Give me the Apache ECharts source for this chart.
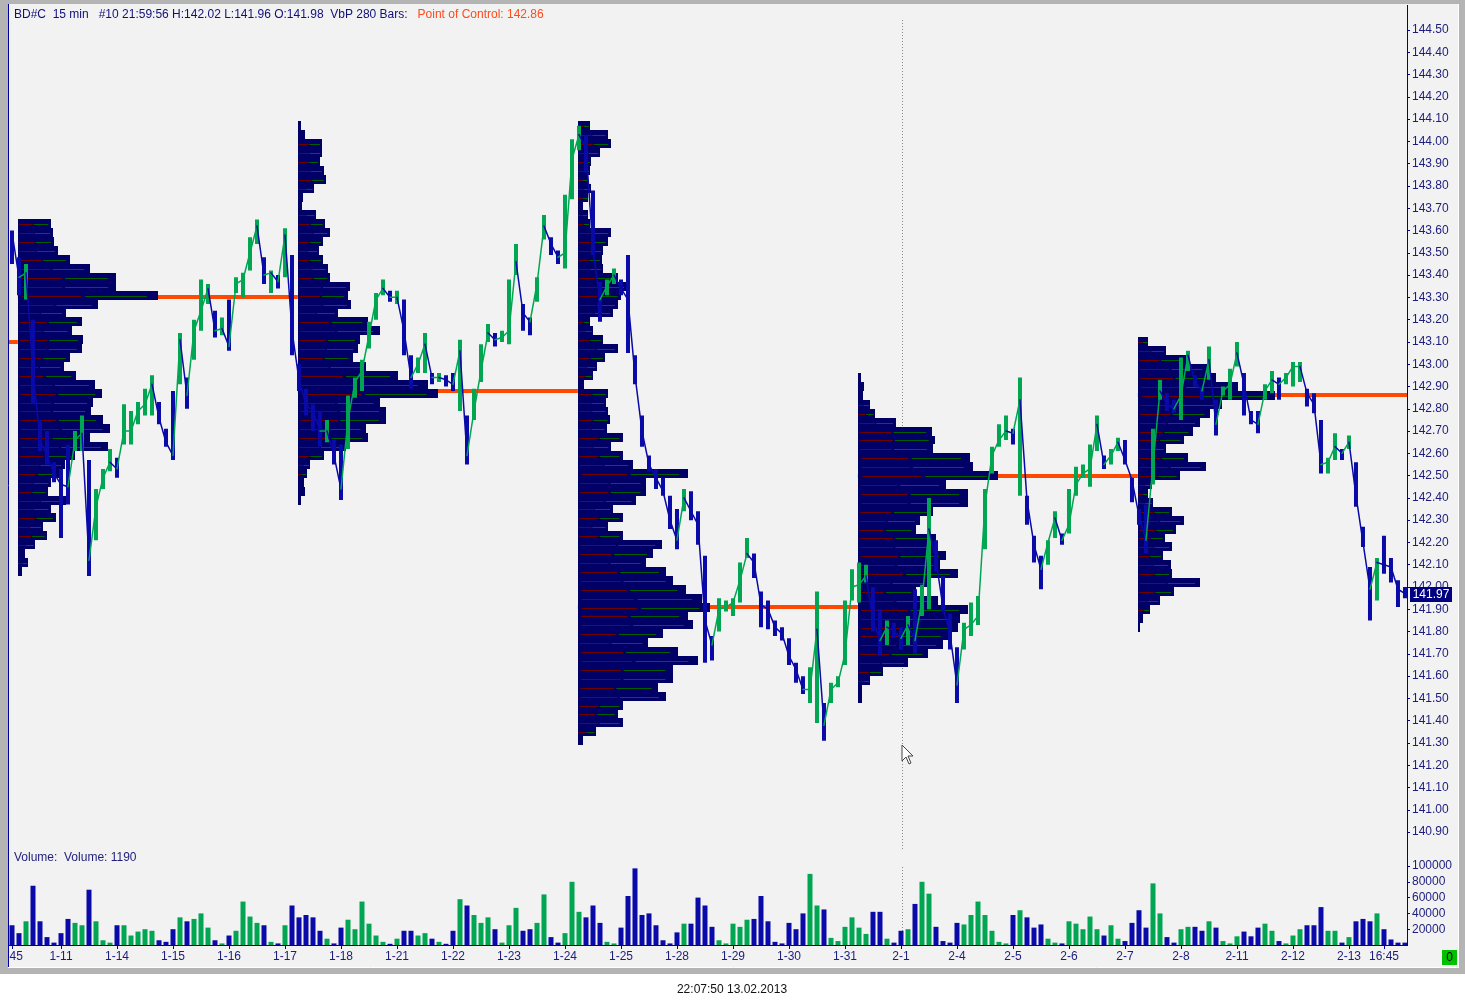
<!DOCTYPE html>
<html>
<head>
<meta charset="utf-8">
<title>BD#C 15 min - Volume by Price</title>
<script src="https://cdn.jsdelivr.net/npm/echarts@6/dist/echarts.min.js"></script>
<style>
  html, body { margin: 0; padding: 0; background: #fff; }
  #chart { width: 1465px; height: 1007px; }
</style>
</head>
<body>
<div id="chart"></div>
<script>
// time axis: 1 unit = 1 trading day, 1-11 sits at 1
const dayLabels = ['1-11', '1-14', '1-15', '1-16', '1-17', '1-18', '1-21', '1-22', '1-23', '1-24', '1-25', '1-28',
  '1-29', '1-30', '1-31', '2-1', '2-4', '2-5', '2-6', '2-7', '2-8', '2-11', '2-12', '2-13'];
const barsPerDay = 56;
const firstSample = 0.125, sampleStep = 0.125; // one sampled bar every 1/8 day

// sampled closes
const closes = [
  143.59, 143.39, 143.41, 142.97, 142.66, 142.59, 142.51, 142.46, 142.45, 142.66,
  142.69, 142.12, 142.36, 142.49, 142.56, 142.53, 142.70, 142.70, 142.79, 142.82,
  142.91, 142.76, 142.65, 142.59, 143.11, 142.86, 143.15, 143.24, 143.34, 143.15,
  143.16, 143.08, 143.36, 143.38, 143.50, 143.62, 143.40, 143.41, 143.37, 143.58,
  143.15, 142.93, 142.82, 142.79, 142.70, 142.70, 142.59, 142.44, 142.75, 142.92,
  142.97, 143.13, 143.29, 143.34, 143.30, 143.30, 143.15, 142.94, 143.00, 143.09,
  142.94, 142.94, 142.93, 142.91, 143.06, 142.59, 142.79, 142.97, 143.14, 143.11,
  143.12, 143.15, 143.46, 143.23, 143.19, 143.36, 143.62, 143.54, 143.48, 143.50,
  143.92, 144.03, 143.97, 143.51, 143.29, 143.35, 143.40, 143.34, 143.29, 142.95,
  142.70, 142.55, 142.49, 142.43, 142.30, 142.21, 142.40, 142.34, 142.28, 141.85,
  141.74, 141.90, 141.91, 141.93, 142.03, 142.15, 142.11, 141.92, 141.90, 141.82,
  141.79, 141.69, 141.63, 141.54, 141.54, 141.81, 141.38, 141.54, 141.57, 141.70,
  142.00, 142.01, 142.05, 141.85, 141.76, 141.82, 141.80, 141.77, 141.83, 141.76,
  141.94, 142.26, 142.12, 141.91, 141.79, 141.56, 141.81, 141.83, 141.87, 142.37,
  142.59, 142.66, 142.70, 142.69, 142.84, 142.39, 142.19, 142.08, 142.20, 142.31,
  142.21, 142.28, 142.46, 142.51, 142.53, 142.73, 142.55, 142.59, 142.65, 142.57,
  142.48, 142.32, 142.21, 142.55, 142.88, 142.82, 142.80, 142.86, 143.04, 142.92,
  142.88, 143.02, 142.73, 142.88, 142.91, 143.05, 142.91, 142.75, 142.73, 142.88,
  142.93, 142.91, 142.94, 142.99, 142.99, 142.87, 142.82, 142.55, 142.56, 142.63,
  142.60, 142.65, 142.41, 142.20, 141.99, 142.11, 142.10, 142.09, 141.99, 141.97
];

// high / low of each sampled stretch
const highs = [
  143.60, 143.48, 143.45, 143.20, 142.75, 142.70, 142.56, 142.53, 142.64, 142.70,
  142.77, 142.57, 142.44, 142.53, 142.62, 142.58, 142.82, 142.79, 142.83, 142.89,
  142.95, 142.83, 142.71, 142.88, 143.14, 142.94, 143.20, 143.38, 143.36, 143.24,
  143.21, 143.29, 143.39, 143.41, 143.57, 143.65, 143.48, 143.42, 143.40, 143.61,
  143.49, 143.00, 142.89, 142.82, 142.79, 142.75, 142.66, 142.64, 142.86, 142.94,
  143.02, 143.19, 143.32, 143.38, 143.33, 143.33, 143.29, 143.04, 143.03, 143.14,
  142.96, 142.96, 142.95, 142.96, 143.11, 142.77, 142.89, 143.09, 143.18, 143.14,
  143.15, 143.38, 143.54, 143.27, 143.21, 143.39, 143.67, 143.57, 143.51, 143.76,
  144.01, 144.07, 144.03, 143.78, 143.37, 143.38, 143.43, 143.38, 143.49, 143.04,
  142.77, 142.59, 142.53, 142.49, 142.41, 142.35, 142.44, 142.43, 142.34, 142.14,
  141.78, 141.95, 141.94, 141.95, 142.11, 142.22, 142.15, 141.98, 141.94, 141.85,
  141.82, 141.77, 141.66, 141.60, 141.64, 141.98, 141.48, 141.57, 141.60, 141.94,
  142.08, 142.11, 142.10, 142.00, 141.90, 141.85, 141.84, 141.82, 141.87, 141.99,
  142.01, 142.40, 142.21, 142.05, 141.88, 141.73, 141.84, 141.93, 141.96, 142.44,
  142.63, 142.73, 142.77, 142.71, 142.94, 142.41, 142.23, 142.14, 142.21, 142.34,
  142.24, 142.44, 142.54, 142.55, 142.64, 142.77, 142.59, 142.62, 142.67, 142.66,
  142.49, 142.35, 142.37, 142.71, 142.93, 142.87, 142.84, 143.03, 143.06, 142.95,
  142.90, 143.08, 142.84, 142.90, 142.98, 143.10, 142.96, 142.79, 142.79, 142.91,
  142.97, 142.94, 142.96, 143.01, 143.01, 142.89, 142.87, 142.75, 142.58, 142.69,
  142.62, 142.68, 142.56, 142.27, 142.09, 142.13, 142.23, 142.13, 142.03, 142.00
];
const lows = [
  143.45, 143.31, 143.29, 142.82, 142.61, 142.55, 142.47, 142.22, 142.37, 142.61,
  142.61, 142.05, 142.21, 142.44, 142.52, 142.49, 142.64, 142.64, 142.73, 142.77,
  142.77, 142.73, 142.63, 142.57, 142.91, 142.80, 143.02, 143.15, 143.27, 143.12,
  143.13, 143.06, 143.32, 143.30, 143.42, 143.54, 143.36, 143.32, 143.34, 143.39,
  143.04, 142.88, 142.77, 142.70, 142.63, 142.65, 142.55, 142.39, 142.62, 142.85,
  142.88, 143.07, 143.20, 143.31, 143.28, 143.27, 143.04, 142.89, 142.96, 142.96,
  142.91, 142.92, 142.90, 142.88, 142.79, 142.55, 142.75, 142.92, 143.10, 143.08,
  143.10, 143.09, 143.40, 143.15, 143.13, 143.28, 143.56, 143.49, 143.45, 143.43,
  143.74, 143.96, 143.86, 143.49, 143.19, 143.31, 143.36, 143.31, 143.05, 142.91,
  142.63, 142.52, 142.44, 142.41, 142.26, 142.17, 142.34, 142.30, 142.19, 141.66,
  141.67, 141.80, 141.89, 141.87, 141.93, 142.13, 142.04, 141.82, 141.81, 141.78,
  141.76, 141.65, 141.57, 141.52, 141.48, 141.39, 141.31, 141.48, 141.55, 141.65,
  141.94, 141.93, 142.02, 141.80, 141.69, 141.74, 141.77, 141.72, 141.74, 141.70,
  141.87, 141.90, 142.07, 141.89, 141.72, 141.48, 141.72, 141.78, 141.83, 142.17,
  142.51, 142.63, 142.66, 142.64, 142.41, 142.28, 142.11, 141.99, 142.10, 142.22,
  142.19, 142.24, 142.41, 142.49, 142.45, 142.61, 142.53, 142.55, 142.61, 142.55,
  142.38, 142.28, 142.15, 142.46, 142.84, 142.79, 142.78, 142.75, 142.97, 142.90,
  142.84, 142.93, 142.68, 142.86, 142.84, 142.99, 142.77, 142.73, 142.69, 142.84,
  142.87, 142.84, 142.91, 142.90, 142.92, 142.81, 142.78, 142.51, 142.51, 142.57,
  142.57, 142.62, 142.36, 142.18, 141.85, 141.94, 142.06, 142.02, 141.91, 141.95
];

// sampled volume
const volumes = [
  25000, 15000, 30000, 75000, 30000, 10000, 3000, 15000, 33000, 28000,
  25000, 70000, 30000, 6000, 3000, 25000, 25000, 12000, 17000, 20000,
  18000, 6000, 4000, 20000, 35000, 30000, 33000, 40000, 22000, 6000,
  2000, 12000, 18000, 55000, 36000, 28000, 25000, 4000, 2000, 25000,
  50000, 35000, 38000, 35000, 18000, 8000, 2000, 22000, 32000, 20000,
  55000, 27000, 12000, 4000, 1500, 8000, 18000, 18000, 12000, 15000,
  8000, 4000, 1500, 18000, 58000, 50000, 38000, 28000, 35000, 20000,
  3000, 25000, 47000, 18000, 20000, 28000, 64000, 10000, 3000, 15000,
  80000, 42000, 35000, 50000, 28000, 4000, 2000, 22000, 62000, 97000,
  38000, 40000, 25000, 6000, 2000, 16000, 27000, 27000, 60000, 50000,
  23000, 6000, 2000, 27000, 23000, 32000, 33000, 62000, 30000, 4000,
  2000, 28000, 20000, 40000, 90000, 50000, 45000, 9000, 5000, 23000,
  35000, 22000, 14000, 42000, 42000, 8000, 3000, 18000, 20000, 52000,
  80000, 65000, 23000, 5000, 3000, 28000, 26000, 38000, 55000, 38000,
  18000, 4000, 2000, 38000, 44000, 35000, 22000, 26000, 8000, 3000,
  2000, 30000, 27000, 20000, 36000, 20000, 12000, 25000, 8000, 5000,
  28000, 44000, 22000, 78000, 40000, 10000, 3000, 20000, 23000, 23000,
  18000, 30000, 22000, 5000, 2000, 11000, 17000, 11000, 22000, 27000,
  18000, 5000, 2000, 12000, 20000, 25000, 25000, 48000, 18000, 18000,
  3000, 10000, 30000, 33000, 30000, 40000, 20000, 7000, 3000, 3000
];

// volume-by-price profiles, 280 bars each, rows of 0.04 from the top price down, length in bars
const rowStep = 0.04;
const profileStart = [0.23, 5.23, 10.23, 15.23, 20.23];
const profileTop = [143.65, 144.09, 144.09, 142.96, 143.12];
const profile1 = [33, 35, 36, 40, 52, 72, 98, 98, 140, 80, 48, 64, 54, 65, 64, 52, 46, 58, 77, 84,
  75, 73, 85, 92, 72, 90, 57, 47, 41, 33, 30, 48, 33, 38, 25, 29, 17, 7, 10, 4];
const profile2 = [3, 7, 24, 24, 22, 26, 28, 16, 5, 4, 18, 27, 32, 25, 21, 25, 30, 32, 52, 50,
  53, 40, 70, 82, 62, 60, 55, 68, 100, 130, 140, 82, 88, 88, 68, 70, 48, 26, 12, 9, 6, 7, 3];
const profile3 = [12, 30, 33, 22, 13, 12, 10, 13, 10, 5, 10, 12, 33, 30, 25, 24, 25, 40, 50, 43,
  40, 35, 12, 15, 25, 40, 27, 19, 15, 6, 30, 28, 30, 32, 29, 45, 33, 45, 55, 110,
  68, 68, 58, 35, 45, 30, 45, 84, 75, 68, 88, 95, 108, 124, 132, 110, 115, 85, 70, 100,
  120, 95, 95, 80, 88, 45, 40, 45, 18, 5];
const profile4 = [3, 6, 5, 12, 17, 38, 74, 77, 75, 112, 115, 140, 88, 110, 110, 75, 62, 58, 78, 78,
  88, 82, 100, 72, 58, 80, 110, 102, 100, 90, 85, 70, 50, 25, 12, 4, 4];
const profile5 = [10, 28, 48, 70, 78, 100, 137, 84, 72, 62, 55, 46, 28, 50, 68, 42, 14, 10, 15, 34,
  46, 38, 27, 34, 25, 33, 34, 62, 36, 22, 12, 5, 2];
const profiles = [profile1, profile2, profile3, profile4, profile5];

// point of control lines
const pocStart = [0.07, 0.23, 5.23, 10.23, 15.23, 20.23];
const pocEnd = [0.23, 5.23, 10.23, 15.23, 20.23, 25.04];
const pocPrice = [143.10, 143.30, 142.88, 141.91, 142.50, 142.86];

const NAVY = '#0000a0';
const TEXT = '#1c1c7c';
const BLUE = '#0a0aa8';
const GREEN = '#00a651';
const FONT = 'Liberation Sans, Arial, sans-serif';

const times = closes.map((_, i) => firstSample + i * sampleStep);
const isUp = closes.map((c, i) => i > 0 && c >= closes[i - 1]);

const segData = [];
for (let i = 1; i < closes.length; i++) {
  segData.push([times[i], closes[i], closes[i - 1], times[i - 1], isUp[i] ? 1 : 0]);
}
const rangeData = closes.map((_, i) => [times[i], highs[i], lows[i], isUp[i] ? 1 : 0]);
const lastPrice = closes[closes.length - 1];

const volData = volumes.map((v, i) => ({
  value: [times[i], v],
  itemStyle: { color: isUp[i] ? GREEN : BLUE }
}));

const profData = [];
profiles.forEach((rows, j) => {
  rows.forEach((len, k) => {
    profData.push([profileStart[j], +(profileTop[j] - k * rowStep).toFixed(2), len]);
  });
});

const pocData = pocPrice.map((p, i) => [pocStart[i], p, pocEnd[i]]);

const tickValues = [0.13].concat(dayLabels.map((_, i) => i + 1), [24.625]);
const labelValues = [0.2].concat(dayLabels.map((_, i) => i + 1), [24.625]);

const chart = echarts.init(document.getElementById('chart'));

const option = {
  backgroundColor: '#ffffff',
  animation: false,
  grid: [
    { left: 9, right: 58, top: 7.7, height: 846.7 },
    { left: 9, right: 58, top: 866, height: 79 }
  ],
  xAxis: [
    { type: 'value', gridIndex: 0, min: 0.0714, max: 25.036, show: false },
    {
      type: 'value', gridIndex: 1, min: 0.0714, max: 25.036,
      axisLine: { show: true, lineStyle: { color: NAVY, width: 1 } },
      axisTick: { show: true, customValues: tickValues, length: 4, lineStyle: { color: NAVY } },
      axisLabel: {
        customValues: labelValues, margin: 6, color: TEXT, fontSize: 12, fontFamily: FONT,
        formatter: v => {
          if (v < 0.5) return '45';
          if (Math.abs(v - 24.625) < 1e-6) return '16:45';
          return dayLabels[Math.round(v) - 1];
        }
      },
      splitLine: { show: false }
    }
  ],
  yAxis: [
    {
      type: 'value', gridIndex: 0, position: 'right', min: 140.8, max: 144.6, interval: 0.1,
      axisLine: { show: true, lineStyle: { color: NAVY } },
      axisTick: { show: true, length: 3, lineStyle: { color: NAVY } },
      axisLabel: {
        color: TEXT, fontSize: 12, fontFamily: FONT, margin: 5,
        showMinLabel: false, showMaxLabel: false,
        formatter: v => v.toFixed(2)
      },
      splitLine: { show: false }
    },
    {
      type: 'value', gridIndex: 1, position: 'right', min: 0, max: 100000, interval: 20000,
      axisLine: { show: true, lineStyle: { color: NAVY } },
      axisTick: { show: true, length: 3, lineStyle: { color: NAVY } },
      axisLabel: {
        color: TEXT, fontSize: 12, fontFamily: FONT, margin: 5, showMinLabel: false,
        formatter: v => String(Math.round(v))
      },
      splitLine: { show: false }
    }
  ],
  series: [
    {
      // point of control lines, under the profiles
      type: 'custom', xAxisIndex: 0, yAxisIndex: 0, z: 2, clip: true,
      encode: { x: [0, 2], y: 1 },
      data: pocData,
      renderItem: (params, api) => {
        const a = api.coord([api.value(0), api.value(1)]);
        const b = api.coord([api.value(2), api.value(1)]);
        return {
          type: 'rect',
          shape: { x: a[0], y: Math.round(a[1]) - 2, width: b[0] - a[0], height: 4 },
          style: { fill: '#ff4800', stroke: null, lineWidth: 0 }
        };
      }
    },
    {
      // volume at price rows
      type: 'custom', xAxisIndex: 0, yAxisIndex: 0, z: 3, clip: true,
      encode: { x: 0, y: 1 },
      data: profData,
      renderItem: (params, api) => {
        const x0 = api.value(0), top = api.value(1), len = api.value(2);
        const a = api.coord([x0, top]);
        const b = api.coord([x0 + len / barsPerDay, top - rowStep]);
        const left = Math.round(a[0]);
        const w = Math.round(b[0]) - left;
        const y0 = Math.round(a[1]), y1 = Math.round(b[1]);
        const mid = Math.round((y0 + y1) / 2) + 0.5;
        const children = [
          { type: 'rect', shape: { x: left, y: y0, width: w, height: y1 - y0 }, style: { fill: '#000066', stroke: null, lineWidth: 0 } }
        ];
        if (len >= 8) {
          children.push(
            { type: 'line', shape: { x1: left + w * 0.03, y1: mid, x2: left + w * 0.45, y2: mid }, style: { stroke: '#700000', lineWidth: 1 } },
            { type: 'line', shape: { x1: left + w * 0.48, y1: mid, x2: left + w * 0.92, y2: mid }, style: { stroke: '#006000', lineWidth: 1 } }
          );
        }
        return { type: 'group', children };
      }
    },
    {
      // high-low range of each sampled stretch
      type: 'custom', xAxisIndex: 0, yAxisIndex: 0, z: 4, clip: true,
      encode: { x: 0, y: [1, 2] },
      data: rangeData,
      renderItem: (params, api) => {
        const h = api.coord([api.value(0), api.value(1)]);
        const l = api.coord([api.value(0), api.value(2)]);
        return {
          type: 'line', shape: { x1: h[0], y1: h[1], x2: l[0], y2: l[1] },
          style: { stroke: api.value(3) ? GREEN : BLUE, lineWidth: 4 }
        };
      }
    },
    {
      // close-to-close path, green when rising, blue when falling
      type: 'custom', xAxisIndex: 0, yAxisIndex: 0, z: 5, clip: true,
      encode: { x: [0, 3], y: [1, 2] },
      data: segData,
      renderItem: (params, api) => {
        const a = api.coord([api.value(3), api.value(2)]);
        const b = api.coord([api.value(0), api.value(1)]);
        return {
          type: 'line', shape: { x1: a[0], y1: a[1], x2: b[0], y2: b[1] },
          style: { stroke: api.value(4) ? GREEN : BLUE, lineWidth: 1.5, lineCap: 'round' }
        };
      }
    },
    {
      // last price tag sitting on the price axis
      type: 'custom', xAxisIndex: 0, yAxisIndex: 0, z: 10, clip: false,
      encode: { x: 0, y: 1 },
      data: [[times[times.length - 1], lastPrice]],
      renderItem: (params, api) => {
        const p = api.coord([api.value(0), api.value(1)]);
        const cs = params.coordSys;
        const x = cs.x + cs.width + 3;
        const y = Math.round(p[1]) - 7;
        return {
          type: 'group',
          children: [
            { type: 'rect', shape: { x: x, y: y, width: 42, height: 15 }, style: { fill: '#000080' } },
            {
              type: 'text',
              style: { x: x + 21, y: y + 8, text: api.value(1).toFixed(2), fill: '#ffffff', fontSize: 12, fontFamily: FONT, align: 'center', verticalAlign: 'middle' }
            }
          ]
        };
      }
    },
    {
      type: 'bar', xAxisIndex: 1, yAxisIndex: 1, barWidth: 5, z: 3,
      data: volData
    }
  ],
  graphic: {
    elements: [
      { id: 'frame', type: 'rect', z: -10, shape: { x: 0, y: 0, width: 1465, height: 974 }, style: { fill: '#b4b4b4' } },
      { id: 'panel', type: 'rect', z: -9, shape: { x: 8, y: 4, width: 1451, height: 963 }, style: { fill: '#f2f2f2' } },
      { id: 'hiliteB', type: 'line', z: -8, shape: { x1: 8, y1: 967.5, x2: 1459, y2: 967.5 }, style: { stroke: '#ffffff', lineWidth: 1 } },
      { id: 'hiliteR', type: 'line', z: -8, shape: { x1: 1458.5, y1: 4, x2: 1458.5, y2: 967 }, style: { stroke: '#ffffff', lineWidth: 1 } },
      { id: 'leftEdge', type: 'line', z: -8, shape: { x1: 8.5, y1: 4, x2: 8.5, y2: 967 }, style: { stroke: NAVY, lineWidth: 1 } },
      { id: 'axisRight', type: 'line', z: 5, shape: { x1: 1407.5, y1: 5, x2: 1407.5, y2: 946 }, style: { stroke: NAVY, lineWidth: 1 } },
      { id: 'cursor1', type: 'line', z: 1, shape: { x1: 902.5, y1: 20, x2: 902.5, y2: 850 }, style: { stroke: '#8a8a8a', lineWidth: 1, lineDash: [1, 2] } },
      { id: 'cursor2', type: 'line', z: 1, shape: { x1: 902.5, y1: 867, x2: 902.5, y2: 945 }, style: { stroke: '#8a8a8a', lineWidth: 1, lineDash: [1, 2] } },
      {
        id: 'title', type: 'text', z: 20, left: 14, top: 9,
        style: {
          text: '{a|BD#C  15 min   #10 21:59:56 H:142.02 L:141.96 O:141.98  VbP 280 Bars:   }{b|Point of Control: ' + pocPrice[pocPrice.length - 1].toFixed(2) + '}',
          rich: {
            a: { fill: '#10107a', fontSize: 12, fontFamily: FONT },
            b: { fill: '#ff4a1a', fontSize: 12, fontFamily: FONT }
          }
        }
      },
      {
        id: 'volTitle', type: 'text', z: 20, x: 14, y: 858,
        style: { text: 'Volume:  Volume: 1190', fill: TEXT, fontSize: 12, fontFamily: FONT, verticalAlign: 'middle' }
      },
      {
        id: 'zeroBox', type: 'group', z: 20, x: 1442, y: 950,
        children: [
          { type: 'rect', shape: { x: 0, y: 0, width: 15, height: 15 }, style: { fill: '#00c000' } },
          { type: 'text', style: { x: 7.5, y: 8, text: '0', fill: '#000000', fontSize: 12, fontFamily: FONT, align: 'center', verticalAlign: 'middle' } }
        ]
      },
      {
        id: 'stamp', type: 'text', z: 20, x: 732, y: 990,
        style: { text: '22:07:50 13.02.2013', fill: '#111111', fontSize: 12, fontFamily: FONT, align: 'center', verticalAlign: 'middle' }
      },
      {
        id: 'arrow', type: 'polygon', z: 30, x: 902, y: 745,
        shape: { points: [[0, 0], [0, 16], [4, 12], [7, 19], [9, 18], [6, 11], [11, 11]] },
        style: { fill: '#ffffff', stroke: '#444444', lineWidth: 1 }
      }
    ]
  }
};

chart.setOption(option);

window.onresize = function () {
  chart.resize();
};
</script>
</body>
</html>
